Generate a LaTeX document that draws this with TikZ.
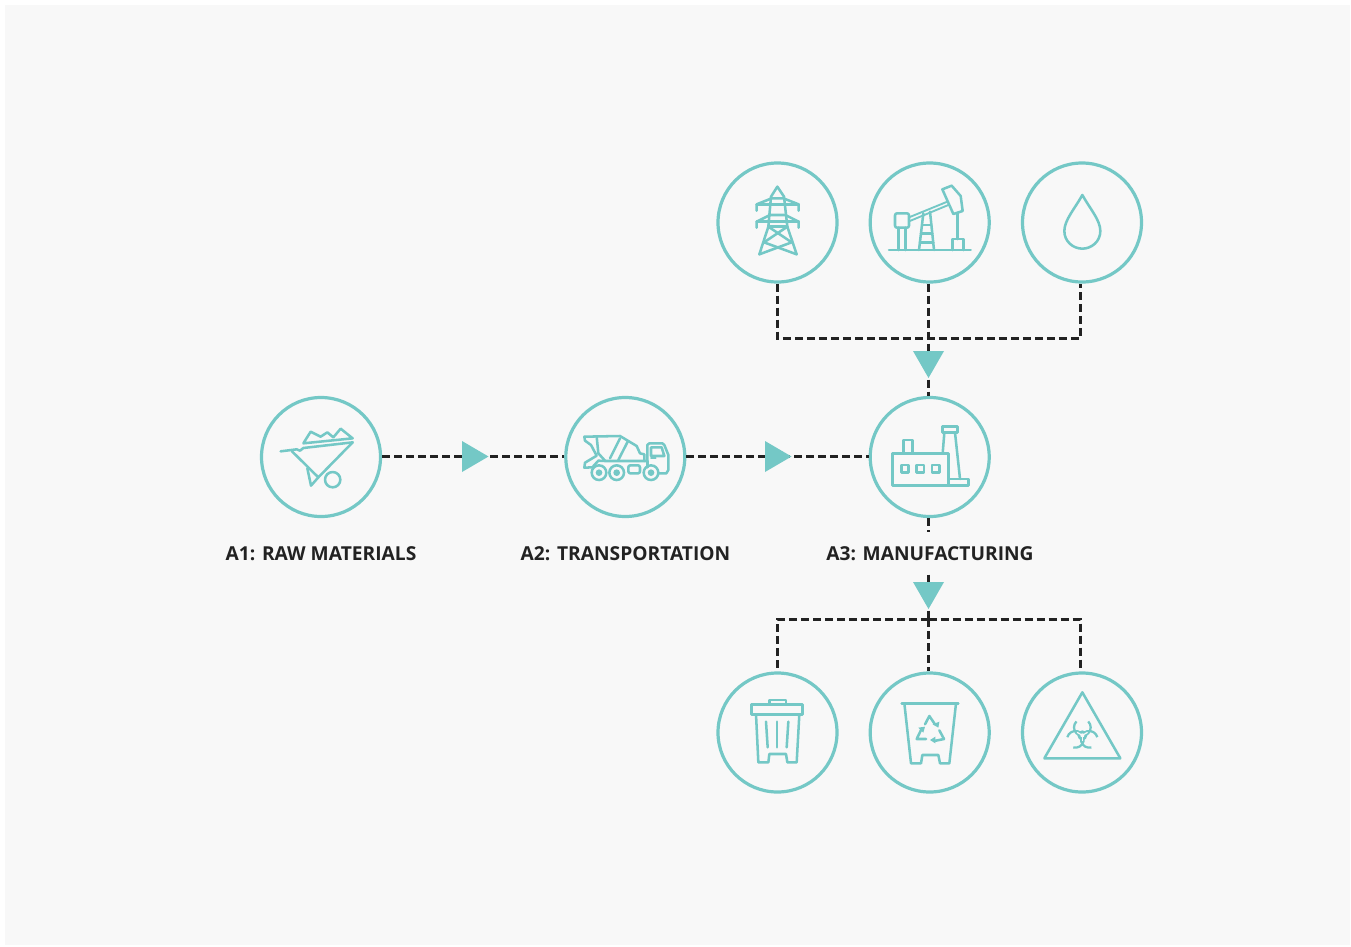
\documentclass[tikz,border=0pt]{standalone}
\usepackage{fontspec}
\usetikzlibrary{calc}
\setmainfont{Open Sans}
\definecolor{teal}{HTML}{74C8C6}
\definecolor{bg}{HTML}{F8F8F8}
\definecolor{ink}{HTML}{222222}
\tikzset{
  ring/.style={circle,draw=teal,line width=2.4pt,minimum size=89.25pt,inner sep=0pt},
  conn/.style={draw=ink,line width=2pt,dash pattern=on 6pt off 3pt},
  lbl/.style={text=ink,font=\bfseries\fontsize{14.4}{16}\selectfont,inner sep=0pt,text height=10.2pt,text depth=0pt},
  icon/.style={draw=teal,line width=1.9pt,line join=round,line cap=round},
  thin icon/.style={icon,line width=1.4pt},
  marker/.style={fill=teal},
  zoomed/.style={shift={#1},x=.25pt,y=-.25pt}
}
\begin{document}
\begin{tikzpicture}[x=.75pt,y=-.75pt]
\useasboundingbox (0,0) rectangle (1351,946);
\fill[white] (0,0) rectangle (1351,946);
\fill[bg] (5,5) rectangle (1350,945);

\node[ring] (a1) at (321,457) {};
\node[ring] (a2) at (625.3,457) {};
\node[ring] (a3) at (929.7,457) {};
\node[ring] (t1) at (777.5,222.5) {};
\node[ring] (t2) at (929.7,222.5) {};
\node[ring] (t3) at (1082,222.5) {};
\node[ring] (b1) at (777.5,732.5) {};
\node[ring] (b2) at (929.7,732.5) {};
\node[ring] (b3) at (1082,732.5) {};

\node[lbl] (l1) at (321,553.3) {A1: RAW MATERIALS};
\node[lbl] (l2) at (625.5,553.3) {A2: TRANSPORTATION};
\node[lbl,minimum height=31.5pt] (l3) at (930,553.3) {A3: MANUFACTURING};

\coordinate (tj) at (928.5,338.3);
\coordinate (bj) at (928.5,619.3);

% connectors
\draw[conn] ([yshift=.4pt]a1.east) -- ([yshift=.4pt]a2.west);
\draw[conn] ([yshift=.4pt]a2.east) -- ([yshift=.4pt]a3.west);
\draw[conn] (t1.south) |- (tj) -| ([xshift=-1.3pt]t3.south);
\draw[conn] (t2.south -| tj) -- (a3.north -| tj);
\draw[conn] (a3.south -| tj) -- (l3.north -| tj);
\draw[conn] (l3.south -| bj) -- (bj);
\draw[conn] (bj) -- (b2.north -| bj);
\draw[conn] (bj) -| (b1.north);
\draw[conn] (bj) -| ([xshift=-1.3pt]b3.north);

% arrow markers
\fill[marker] (462,441) -- (488.5,456.5) -- (462,472) -- cycle;
\fill[marker] (765,441) -- (791.5,456.5) -- (765,472) -- cycle;
\fill[marker] (913,351) -- (928.5,378) -- (944,351) -- cycle;
\fill[marker] (913,582) -- (928.5,609) -- (944,582) -- cycle;

% wheelbarrow
\begin{scope}[zoomed={(250,390)}]
\draw[icon] (92,184) -- (140,178) -- (150,182) -- (160,174) -- (308,157);
\draw[icon] (160,160) -- (182,125) -- (212,140) -- (232,127) -- (250,142) -- (272,116) -- (308,145) -- cycle;
\draw[icon] (125,183) -- (205,262) -- (308,157);
\draw[icon] (172,235) -- (183,287) -- (205,262);
\draw[icon] (248,269) circle (23);
\end{scope}

% truck
\begin{scope}[zoomed={(555,390)}]
\draw[icon] (88,140) -- (195,138) -- (245,168) -- (255,190) -- (268,193) -- (268,213) -- (150,213) -- (130,212) -- (112,232) -- (88,233) -- (90,218) -- (125,197) -- (108,165) -- (90,152) -- cycle;
\draw[icon] (125,140) -- (130,190) -- (150,212);
\draw[icon] (195,145) -- (165,205);
\draw[icon] (218,155) -- (190,210);
\draw[icon] (268,213) -- (277,213) -- (277,165) -- (283,160) -- (322,160) -- (328,165) -- (340,195) -- (340,240) -- (334,250) -- (312,250);
\draw[icon] (288,172) -- (320,172) -- (328,198) -- (288,198) -- cycle;
\draw[thin icon] (288,205) -- (302,205);
\draw[icon] (277,213) -- (277,232);
\foreach \cx in {132,185,288} {
  \draw[icon] (\cx,248) circle (22);
  \fill[teal] (\cx,248) circle (10);
}
\draw[icon,rounded corners=1.5pt] (220,226) rectangle (255,250);
\end{scope}

% factory
\begin{scope}[zoomed={(860,390)}]
\draw[icon] (97,190) rectangle (265,286);
\draw[icon] (130,190) -- (130,150) -- (158,150) -- (158,190);
\draw[icon] (124,225) rectangle (146,248);
\draw[icon] (170,225) rectangle (192,248);
\draw[icon] (216,225) rectangle (238,248);
\draw[icon] (247,110) rectangle (292,128);
\draw[icon] (253,128) -- (248,190);
\draw[icon] (285,128) -- (300,267);
\draw[icon] (265,267) rectangle (325,286);
\end{scope}

% pylon
\begin{scope}[zoomed={(710,155)}]
\draw[icon] (148,298) -- (175,215) -- (183,125) -- (202,95) -- (222,125) -- (232,215) -- (260,298);
\draw[icon] (140,167) -- (140,148) -- (185,130) -- (220,130) -- (266,148) -- (266,167);
\draw[icon] (140,148) -- (266,148);
\draw[icon] (140,218) -- (140,200) -- (180,180) -- (226,180) -- (266,200) -- (266,218);
\draw[icon] (140,200) -- (266,200);
\draw[icon] (175,215) -- (232,215);
\draw[icon] (175,215) -- (245,262) -- (148,298);
\draw[icon] (232,215) -- (162,262) -- (260,298);
\end{scope}

% pumpjack
\begin{scope}[zoomed={(860,155)}]
\draw[icon] (87,285) -- (332,285);
\draw[icon,rounded corners=1.5pt] (105,175) rectangle (147,218);
\draw[icon] (115,218) -- (115,285);
\draw[icon] (137,218) -- (137,285);
\draw[thin icon] (147,187) -- (262,140);
\draw[thin icon] (147,199) -- (265,150);
\draw[icon] (247,103) -- (275,92) -- (302,123) -- (308,168) -- (280,177) -- cycle;
\draw[icon] (293,174) -- (293,252);
\draw[icon] (277,285) -- (277,252) -- (310,252) -- (310,285);
\draw[icon] (190,175) -- (177,285);
\draw[icon] (210,170) -- (222,285);
\draw[icon] (186,210) -- (214,210);
\draw[icon] (183,236) -- (217,236);
\draw[icon] (180,262) -- (220,262);
\end{scope}

% drop
\begin{scope}[zoomed={(1015,155)}]
\draw[icon] (202,120) .. controls (180,160) and (148,195) .. (148,228) .. controls (148,260) and (175,281) .. (202,281) .. controls (229,281) and (256,260) .. (256,228) .. controls (256,195) and (224,160) .. (202,120) -- cycle;
\end{scope}

% bin
\begin{scope}[zoomed={(710,665)}]
\draw[icon] (125,118) rectangle (278,148);
\draw[icon] (178,118) -- (178,105) -- (228,105) -- (228,118);
\draw[icon] (138,148) -- (145,292) -- (175,292) -- (178,267) -- (228,267) -- (232,292) -- (260,292) -- (268,148);
\draw[icon] (168,170) -- (173,247);
\draw[icon] (201,170) -- (201,247);
\draw[icon] (235,170) -- (230,247);
\end{scope}

% recycling bin
\begin{scope}[zoomed={(860,665)}]
\draw[icon] (125,115) -- (295,115);
\draw[icon] (133,115) -- (153,295) -- (183,295) -- (187,270) -- (235,270) -- (240,295) -- (268,295) -- (288,115);
\draw[icon] (195,178) -- (208,153) -- (225,178);
\fill[teal] (218,178) -- (238,170) -- (235,188) -- cycle;
\draw[icon] (183,195) -- (170,222) -- (198,222);
\fill[teal] (175,188) -- (195,185) -- (190,203) -- cycle;
\draw[icon] (222,228) -- (252,222) -- (238,196);
\fill[teal] (226,215) -- (226,235) -- (210,225) -- cycle;
\end{scope}

% biohazard
\begin{scope}[zoomed={(1015,665)}]
\draw[icon] (202,82) -- (316,280) -- (88,280) -- cycle;
\foreach \ang in {270,30,150} {
  \pgfmathsetmacro{\st}{\ang+45}
  \pgfmathsetmacro{\en}{\ang+315}
  \draw[teal,line width=1.7pt] ($(202,211)+(\ang:24)+(\st:25)$) arc (\st:\en:25);
}
\fill[teal] (202,211) circle (15);
\fill[bg] (202,211) circle (6);
\foreach \ang in {90,210,330} {
  \draw[bg,line width=.9pt] ($(202,211)+(\ang:4)$) -- ($(202,211)+(\ang:18)$);
}
\end{scope}
\end{tikzpicture}
\end{document}
